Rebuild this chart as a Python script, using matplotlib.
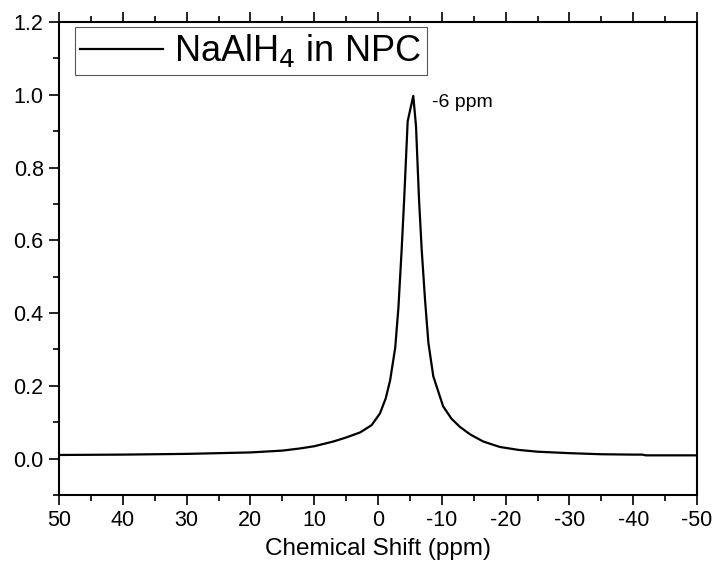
import matplotlib
matplotlib.use("Agg")
import matplotlib.pyplot as plt
from matplotlib.ticker import MultipleLocator

plt.rcParams['font.family'] = ['Liberation Sans', 'DejaVu Sans']

shift_ppm = [50, 40, 30, 25, 20, 15, 12.2, 10, 7.0, 5, 2.8, 1, -0.3, -1.2, -1.9, -2.7,
             -3.2, -3.7, -4.1, -4.65, -5.53, -5.96, -6.43, -6.85, -7.37, -7.9,
             -8.67, -10.2, -11.5, -12.85, -14.5, -16.5, -19.1, -22, -25, -30, -35,
             -40, -41.4, -42, -50]
intensity = [0.010, 0.011, 0.013, 0.015, 0.017, 0.022, 0.028, 0.034, 0.047, 0.058, 0.072,
             0.092, 0.124, 0.165, 0.215, 0.305, 0.415, 0.572, 0.712, 0.927, 0.997,
             0.913, 0.712, 0.574, 0.437, 0.318, 0.226, 0.144, 0.110, 0.087, 0.066,
             0.047, 0.032, 0.024, 0.019, 0.015, 0.012, 0.011, 0.011, 0.009, 0.009]

x_ticks = [50, 40, 30, 20, 10, 0, -10, -20, -30, -40, -50]
y_ticks = [0.0, 0.2, 0.4, 0.6, 0.8, 1.0, 1.2]

fig = plt.figure(figsize=(7.15, 5.66), dpi=100)
ax = fig.add_axes([59/715, 1-495/566, (697-59)/715, (495-22)/566])

ax.plot(shift_ppm, intensity, color='black', lw=1.6, label=r'NaAlH$_4$ in NPC')

ax.set_xlim(50, -50)
ax.set_ylim(-0.1, 1.2)
ax.set_xticks(x_ticks)
ax.set_xticklabels([str(v) for v in x_ticks])
ax.set_yticks(y_ticks)
ax.set_yticklabels([f"{v:.1f}" for v in y_ticks])
ax.xaxis.set_minor_locator(MultipleLocator(5))
ax.yaxis.set_minor_locator(MultipleLocator(0.1))

for s in ax.spines.values():
    s.set_linewidth(1.5)

ax.tick_params(axis='both', which='major', direction='out', length=7, width=1.2,
               labelsize=15.5, pad=4)
ax.tick_params(axis='both', which='minor', direction='out', length=4, width=1.2)
ax.tick_params(axis='x', which='both', top=True, bottom=True)
ax.tick_params(axis='y', which='both', left=True, right=False)

ax.set_xlabel('Chemical Shift (ppm)', fontsize=17.5, labelpad=5)

ax.text(-8.5, 0.98, '-6 ppm', fontsize=14, ha='left', va='center')

leg = ax.legend(loc='upper left', bbox_to_anchor=(0.025, 0.99), fontsize=26,
                frameon=True, fancybox=False, edgecolor='#555555', framealpha=1,
                handlelength=2.3, handletextpad=0.3, borderpad=0.15, borderaxespad=0)
leg.get_frame().set_linewidth(0.8)

fig.savefig('out.png', dpi=100)
